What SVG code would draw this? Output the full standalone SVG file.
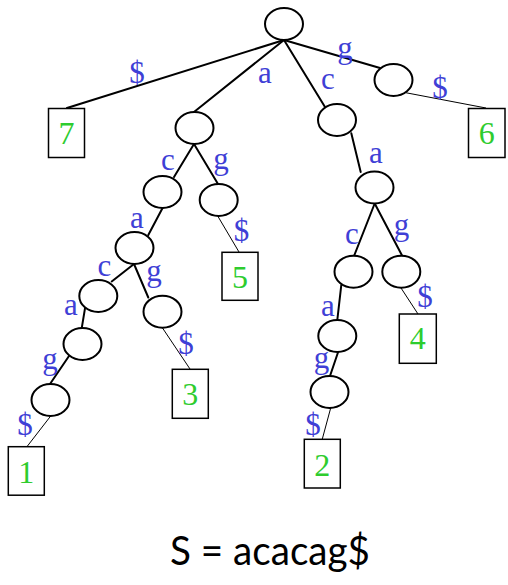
<svg xmlns="http://www.w3.org/2000/svg" width="508" height="585" viewBox="0 0 508 585">
<style>
.e{stroke:#000;stroke-width:2;fill:none;stroke-linecap:round}
.t{stroke:#000;stroke-width:1;fill:none}
.n{fill:#fff;stroke:#000;stroke-width:2}
.b{fill:#fff;stroke:#000;stroke-width:1.5}
.l{font-family:"Liberation Serif",serif;font-size:31px;fill:#3f3fd6;text-anchor:middle}
.d{font-family:"Liberation Serif",serif;font-size:32px;fill:#2ecc2e;text-anchor:middle}
.s{font-family:Lato,"Open Sans",sans-serif;font-size:40px;fill:#000;text-anchor:middle}
</style>
<rect width="508" height="585" fill="#fff"/>
<g id="connectors">
<line class="e" x1="284" y1="40" x2="67" y2="108"/>
<line class="e" x1="284" y1="40" x2="194" y2="112"/>
<line class="e" x1="284" y1="40" x2="325" y2="107"/>
<line class="e" x1="284" y1="40" x2="380" y2="68"/>
<line class="t" x1="405.7" y1="92.7" x2="486" y2="108"/>
<line class="e" x1="194" y1="144" x2="174" y2="177"/>
<line class="e" x1="194" y1="144" x2="218" y2="184"/>
<line class="t" x1="218" y1="216.5" x2="239" y2="252"/>
<line class="e" x1="162.7" y1="207.7" x2="148.3" y2="235"/>
<line class="e" x1="134" y1="264" x2="111.7" y2="281.5"/>
<line class="e" x1="134" y1="264" x2="148.3" y2="297.5"/>
<line class="t" x1="162.3" y1="327.7" x2="190" y2="369"/>
<line class="e" x1="85" y1="308.3" x2="81.7" y2="328.3"/>
<line class="e" x1="69" y1="356" x2="50" y2="384"/>
<line class="t" x1="50.7" y1="416" x2="26.7" y2="447"/>
<line class="e" x1="351.3" y1="133.3" x2="360.7" y2="172"/>
<line class="e" x1="374.7" y1="203.5" x2="354" y2="256"/>
<line class="e" x1="374.7" y1="203.5" x2="402.3" y2="256"/>
<line class="t" x1="400.7" y1="287.5" x2="418" y2="314"/>
<line class="e" x1="341.3" y1="285" x2="337.3" y2="320"/>
<line class="e" x1="338.3" y1="351.5" x2="330" y2="376"/>
<line class="t" x1="330.7" y1="408" x2="322.3" y2="439"/>
</g>
<g id="edge-labels">
<text class="l" x="137" y="83">$</text>
<text class="l" x="265" y="83">a</text>
<text class="l" x="328" y="89">c</text>
<text class="l" x="345" y="58">g</text>
<text class="l" x="440" y="98">$</text>
<text class="l" x="168" y="170">c</text>
<text class="l" x="221" y="169">g</text>
<text class="l" x="241.5" y="241">$</text>
<text class="l" x="137" y="228">a</text>
<text class="l" x="104.5" y="276">c</text>
<text class="l" x="154" y="281">g</text>
<text class="l" x="186" y="354">$</text>
<text class="l" x="71" y="315">a</text>
<text class="l" x="50" y="369">g</text>
<text class="l" x="25" y="435">$</text>
<text class="l" x="376" y="163">a</text>
<text class="l" x="352" y="244">c</text>
<text class="l" x="401.5" y="235">g</text>
<text class="l" x="425" y="307">$</text>
<text class="l" x="328" y="316">a</text>
<text class="l" x="321.5" y="368">g</text>
<text class="l" x="313" y="435">$</text>
</g>
<g id="root"><ellipse class="n" cx="284" cy="24" rx="19" ry="16"/></g>
<g id="n-a"><ellipse class="n" cx="194.5" cy="128" rx="19" ry="16"/></g>
<g id="n-c"><ellipse class="n" cx="337" cy="120" rx="19" ry="16"/></g>
<g id="n-g"><ellipse class="n" cx="393.5" cy="80" rx="19" ry="16"/></g>
<g id="n-ac"><ellipse class="n" cx="162.5" cy="192" rx="19" ry="16"/></g>
<g id="n-ag"><ellipse class="n" cx="218.7" cy="200" rx="19" ry="16"/></g>
<g id="n-aca"><ellipse class="n" cx="134.5" cy="248" rx="19" ry="16"/></g>
<g id="n-acac"><ellipse class="n" cx="98.3" cy="296" rx="19" ry="16"/></g>
<g id="n-acag"><ellipse class="n" cx="162.5" cy="311.7" rx="19" ry="16"/></g>
<g id="n-acaca"><ellipse class="n" cx="82.5" cy="344" rx="19" ry="16"/></g>
<g id="n-acacag"><ellipse class="n" cx="50.5" cy="400" rx="19" ry="16"/></g>
<g id="n-ca"><ellipse class="n" cx="374.5" cy="187.5" rx="19" ry="16"/></g>
<g id="n-cac"><ellipse class="n" cx="353.5" cy="271.7" rx="19" ry="16"/></g>
<g id="n-cag"><ellipse class="n" cx="401.3" cy="271.7" rx="19" ry="16"/></g>
<g id="n-caca"><ellipse class="n" cx="337.3" cy="336" rx="19" ry="16"/></g>
<g id="n-cacag"><ellipse class="n" cx="329.5" cy="392" rx="19" ry="16"/></g>
<g id="leaf-7"><rect class="b" x="48.5" y="108.5" width="36" height="49"/><text class="d" x="66.5" y="144">7</text></g>
<g id="leaf-6"><rect class="b" x="468.5" y="108.5" width="36.5" height="49"/><text class="d" x="486.7" y="144">6</text></g>
<g id="leaf-5"><rect class="b" x="222" y="252.3" width="36" height="48"/><text class="d" x="240" y="288">5</text></g>
<g id="leaf-3"><rect class="b" x="172.3" y="369.3" width="36" height="49"/><text class="d" x="190.3" y="405">3</text></g>
<g id="leaf-1"><rect class="b" x="8.3" y="446.7" width="36" height="48.5"/><text class="d" x="26.3" y="483">1</text></g>
<g id="leaf-2"><rect class="b" x="304.3" y="439.3" width="36" height="48.7"/><text class="d" x="322.3" y="476">2</text></g>
<g id="leaf-4"><rect class="b" x="399.3" y="314" width="37" height="49.3"/><text class="d" x="417.8" y="349">4</text></g>
<text class="s" x="270" y="565" textLength="200" lengthAdjust="spacingAndGlyphs">S = acacag$</text>
</svg>
